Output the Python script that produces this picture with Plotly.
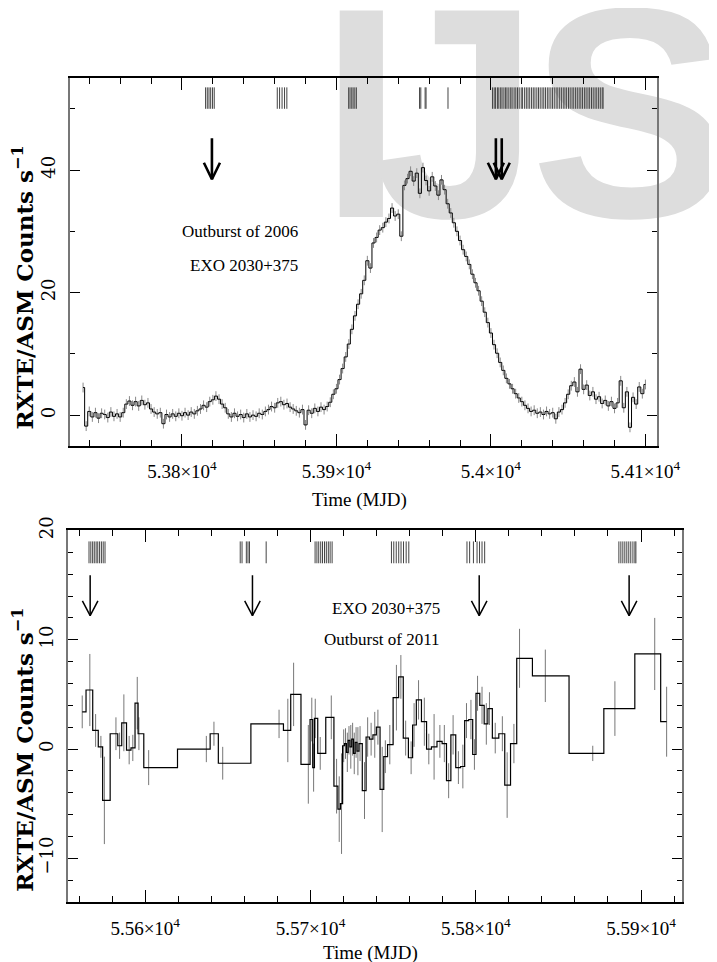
import plotly.graph_objects as go

# ---------------- DATA ----------------
# 2006 outburst, RXTE/ASM light curve (2-day sampling)
T06_START = 53736
T06_STEP = 2
rate06 = [
    4.5, -1.8, 0.6, -0.3, 0.4, -0.5, 0.3, 0.1, -0.4, 0.5,
    -0.2, 0.2, -0.3, 0.4, 1.8, 2.3, 1.6, 2.2, 1.5, 2.4,
    1.7, 2.0, 1.0, 0.5, 0.2, 0.4, -1.4, 0.1, -0.3, 0.2,
    -0.2, 0.3, -0.1, 0.4, 0.0, 0.5, 0.2, 0.7, 1.0, 1.6,
    1.3, 2.2, 2.5, 3.1, 2.6, 1.8, 1.2, 0.2, -0.3, 0.3,
    -0.2, 0.1, -0.4, 0.2, -0.3, 0.0, -0.2, 0.3, 0.1, 0.6,
    0.9, 1.4, 1.2, 2.0, 2.2, 1.7, 1.9, 1.3, 1.0, 0.7,
    0.4, 0.9, -1.6, 0.8, 0.3, 1.1, 0.6, 1.3, 0.9, 1.4,
    2.1, 3.4, 4.3, 5.8, 7.6, 9.5, 11.6, 14.0, 16.2, 18.1,
    19.8, 22.0, 25.2, 24.0, 28.1, 29.0, 30.2, 30.6, 31.5, 32.1,
    33.8, 32.5, 32.8, 29.2, 37.5, 38.6, 39.8, 38.2, 39.5, 36.2,
    40.4, 38.3, 36.6, 38.9, 37.4, 35.9, 38.4, 36.8, 34.5, 33.0,
    31.4, 30.0, 28.5, 27.0, 25.9, 24.6, 23.0, 21.6, 20.3, 18.6,
    16.8, 15.1, 13.4, 11.5, 10.1, 8.6, 7.3, 6.0, 5.1, 4.3,
    3.5, 2.8, 2.2, 1.6, 1.1, 0.6, 0.8, 0.3, 0.5, 0.1,
    0.6, 0.2, 0.4, -0.6, 0.5, 0.9, 2.0, 3.4, 4.8, 5.4,
    3.8, 7.5, 4.2, 4.9, 3.2, 3.8, 2.6, 3.0, 1.9, 2.4,
    1.5, 2.2, 1.1, 2.0, 5.6, 1.2, 3.8, -2.0, 2.9, 1.8,
    4.6, 3.5, 5.0,
]
t06 = [T06_START + T06_STEP * i for i in range(len(rate06))]
ERR06 = 0.8  # typical ASM uncertainty (constant error bar)

# observation epochs (2006)
obs06 = [53815.3, 53816.4, 53817.5, 53818.6, 53819.8, 53820.9,
         53861.7, 53863.2, 53864.8, 53866.4, 53867.9,
         53907.9, 53908.8, 53909.9, 53910.8, 53911.9, 53912.9,
         53953.8, 53954.6, 53957.4, 53958.0,
         53972.2,
         54001.0, 54002.1, 54003.0, 54004.2, 54005.1, 54006.3, 54007.2, 54008.4,
         54009.5, 54010.4, 54011.6, 54012.8, 54013.7, 54015.0, 54016.1, 54017.2,
         54018.3, 54019.6, 54020.5, 54021.8, 54022.9, 54024.0, 54025.1, 54026.3,
         54027.4, 54028.5, 54029.7, 54030.8, 54031.9, 54033.1, 54034.2, 54035.3,
         54036.5, 54037.6, 54038.8, 54039.9, 54041.0, 54042.2, 54043.3, 54044.5,
         54045.6, 54046.8, 54047.9, 54049.0, 54050.2, 54051.3, 54052.5, 54053.6,
         54054.8, 54055.9, 54057.1, 54058.2, 54059.3, 54060.5, 54061.6, 54062.8,
         54063.9, 54065.1, 54066.2, 54067.4, 54068.5, 54069.7, 54070.8, 54072.0,
         54072.6]
obs06_extra = [53970.6, 53972.5]
arrows06 = [53819.4, 54003.2, 54007.0]

# 2011 outburst light curve
t11 = [55561.9, 55566.5, 55570.0, 55573.2, 55575.3, 55582.3, 55584.5, 55587.1, 55590.3, 55592.5,
       55595.2, 55596.2, 55602.1, 55637.0, 55641.6, 55646.9, 55681.0, 55686.3, 55689.8, 55698.7,
       55700.8, 55701.9, 55702.9, 55705.9, 55712.6, 55715.8, 55717.4, 55718.8, 55720.1, 55721.2,
       55722.3, 55723.3, 55724.4, 55725.5, 55726.5, 55727.6, 55728.7, 55730.0, 55732.7, 55734.6,
       55736.7, 55738.9, 55740.8, 55743.4, 55745.3, 55748.0, 55752.0, 55754.7, 55757.6, 55760.9,
       55762.7, 55765.4, 55768.9, 55771.6, 55774.8, 55778.3, 55781.0, 55783.6, 55786.3, 55789.5,
       55792.2, 55794.4, 55797.1, 55799.2, 55801.1, 55803.8, 55806.4, 55808.3, 55811.8, 55816.1,
       55819.0, 55823.1, 55826.5, 55842.1, 55870.8, 55884.2, 55908.3, 55915.5]
rate11 = [3.4, 5.4, 1.7, 0.2, -4.7, 1.4, 0.3, 2.4, -0.1, 0.1,
          4.2, 1.4, -1.7, 0.0, 1.4, -1.3, 2.3, 1.7, 5.0, -1.4,
          2.7, -1.7, 2.8, -0.4, 2.9, -3.4, -5.5, -5.0, 0.3, 0.5,
          -0.3, 0.8, 0.2, 0.9, -0.4, 0.6, -0.2, 0.5, -3.8, 1.1,
          0.9, 1.3, 2.0, -3.7, -0.7, 0.4, 4.7, 6.6, 1.0, -0.8,
          2.2, 4.5, 2.5, 0.0, 0.2, 0.7, 0.5, -2.9, 1.3, -1.7,
          -1.6, 2.6, 2.7, -0.5, 5.1, 4.0, 2.3, 3.7, 1.0, 1.4,
          -3.3, 0.5, 8.3, 6.7, -0.4, 3.7, 8.7, 2.5]
err11 = [1.5, 3.3, 1.5, 1.0, 4.0, 1.5, 1.2, 2.6, 1.3, 1.2,
         2.4, 1.5, 1.6, 1.2, 1.1, 1.5, 1.3, 2.9, 2.9, 3.6,
         2.0, 2.2, 1.8, 1.5, 2.0, 2.5, 3.0, 4.6, 1.5, 1.4,
         1.8, 1.3, 2.0, 1.5, 1.9, 1.4, 2.2, 1.6, 2.6, 1.8,
         1.5, 2.1, 1.6, 3.9, 1.5, 1.8, 3.0, 2.0, 1.6, 1.5,
         2.0, 1.8, 2.2, 1.4, 3.0, 1.5, 1.7, 1.6, 1.8, 1.5,
         2.0, 1.6, 1.8, 1.4, 1.6, 1.7, 1.9, 1.5, 1.4, 1.6,
         3.0, 1.8, 2.7, 2.4, 0.7, 2.5, 3.3, 3.2]

obs11 = [55566.0, 55567.1, 55568.2, 55569.2, 55570.3, 55571.3, 55572.4, 55573.5, 55574.6, 55575.7,
         55657.5, 55658.6, 55661.2, 55662.2, 55663.1, 55673.2,
         55702.8, 55703.9, 55705.0, 55706.2, 55707.3, 55708.5, 55709.6, 55710.8, 55711.9, 55713.1,
         55749.0, 55750.4, 55751.9, 55753.4, 55754.8, 55756.3, 55757.9, 55759.5,
         55794.7, 55796.3, 55798.6, 55800.8, 55802.3, 55803.8, 55805.4,
         55886.6, 55887.8, 55889.0, 55890.2, 55891.4, 55892.6, 55893.8, 55895.1, 55896.3, 55896.9]
arrows11 = [55566.7, 55664.9, 55802.1, 55892.8]

xticks06 = [53800, 53900, 54000, 54100]
xticks06_text = ["5.38×10<sup>4</sup>", "5.39×10<sup>4</sup>", "5.4×10<sup>4</sup>", "5.41×10<sup>4</sup>"]
xticks11 = [55600, 55700, 55800, 55900]
xticks11_text = ["5.56×10<sup>4</sup>", "5.57×10<sup>4</sup>", "5.58×10<sup>4</sup>", "5.59×10<sup>4</sup>"]
yticks06 = [0, 20, 40]
yticks11 = [-10, 0, 10, 20]

# ---------------- STYLE ----------------
SERIF = "Liberation Serif"
STRIP06 = (50.0, 53.5)
STRIP11 = (17.0, 19.0)
ARROW06 = dict(top=45.2, tip=38.5, dx=5.2, dy=2.7, width=2.6)
ARROW11 = dict(top=15.9, tip=12.2, dx=4.7, dy=1.36, width=1.5)
# watermark letters: (letter, x position in the top panel's MJD units)
WATERMARK_LETTERS = ["I", "J", "S"]
WATERMARK_X = [53916.1, 53977.5, 54090.3]
WATERMARK_Y = 44.6
WATERMARK_SIZE = 300


def strip_xy(times, lo, hi):
    xs, ys = [], []
    for t in times:
        xs += [t, t, None]
        ys += [lo, hi, None]
    return xs, ys


def arrow_xy(xs_, a):
    xs, ys = [], []
    for x in xs_:
        xs += [x, x, None, x - a["dx"], x, x + a["dx"], None]
        ys += [a["top"], a["tip"], None, a["tip"] + a["dy"], a["tip"], a["tip"] + a["dy"], None]
    return xs, ys


fig = go.Figure()

# watermark (behind everything in the top panel)
fig.add_trace(go.Scatter(x=WATERMARK_X, y=[WATERMARK_Y] * len(WATERMARK_X), mode="text",
                         text=WATERMARK_LETTERS,
                         textfont=dict(family="Liberation Sans", size=WATERMARK_SIZE, color="#dddddd",
                                       weight="bold"),
                         textposition="middle center", cliponaxis=False,
                         hoverinfo="skip", showlegend=False, xaxis="x", yaxis="y"))

# top panel
sx, sy = strip_xy(obs06, *STRIP06)
fig.add_trace(go.Scatter(x=sx, y=sy, mode="lines", line=dict(color="#444", width=1),
                         hoverinfo="skip", showlegend=False, xaxis="x", yaxis="y"))
fig.add_trace(go.Scatter(x=obs06_extra, y=[56.6] * len(obs06_extra), mode="markers",
                         marker=dict(symbol="line-ns", size=5, line=dict(color="#555", width=1)),
                         cliponaxis=False, hoverinfo="skip", showlegend=False, xaxis="x", yaxis="y"))
ax, ay = arrow_xy(arrows06, ARROW06)
fig.add_trace(go.Scatter(x=ax, y=ay, mode="lines", line=dict(color="black", width=ARROW06["width"]),
                         hoverinfo="skip", showlegend=False, xaxis="x", yaxis="y"))
fig.add_trace(go.Scatter(x=t06, y=rate06, mode="lines", line=dict(color="black", width=1, shape="hvh"),
                         error_y=dict(type="constant", value=ERR06, color="#888", thickness=1, width=0),
                         showlegend=False, xaxis="x", yaxis="y"))

# bottom panel
sx, sy = strip_xy(obs11, *STRIP11)
fig.add_trace(go.Scatter(x=sx, y=sy, mode="lines", line=dict(color="#444", width=1),
                         hoverinfo="skip", showlegend=False, xaxis="x2", yaxis="y2"))
ax, ay = arrow_xy(arrows11, ARROW11)
fig.add_trace(go.Scatter(x=ax, y=ay, mode="lines", line=dict(color="black", width=ARROW11["width"]),
                         hoverinfo="skip", showlegend=False, xaxis="x2", yaxis="y2"))
fig.add_trace(go.Scatter(x=t11, y=rate11, mode="lines",
                         line=dict(color="black", width=1.2, shape="hvh"),
                         error_y=dict(type="data", array=err11, color="#777", thickness=1, width=0),
                         showlegend=False, xaxis="x2", yaxis="y2"))


def xaxis(domain, anchor, rng, tv, tt, tick0):
    return dict(domain=domain, anchor=anchor, range=rng, tickmode="array", tickvals=tv, ticktext=tt,
                ticks="inside", ticklen=12, tickwidth=1, tickcolor="black",
                minor=dict(tickmode="linear", tick0=tick0, dtick=20, ticks="inside", ticklen=6,
                           tickwidth=1, tickcolor="black", showgrid=False),
                showline=True, linecolor="black", linewidth=1.5, mirror="allticks",
                showgrid=False, zeroline=False, ticklabelstandoff=8,
                tickfont=dict(family=SERIF, size=19, color="black"))


def yaxis(domain, anchor, rng, tv, mdt):
    return dict(domain=domain, anchor=anchor, range=rng, tickmode="array", tickvals=tv,
                ticks="inside", ticklen=10, tickwidth=1, tickcolor="black", tickangle=-90,
                minor=dict(tickmode="linear", tick0=0, dtick=mdt, ticks="inside", ticklen=5,
                           tickwidth=1, tickcolor="black", showgrid=False),
                showline=True, linecolor="#777", linewidth=2, mirror="allticks",
                showgrid=False, zeroline=False, ticklabelstandoff=6,
                tickfont=dict(family="DejaVu Serif", size=18, color="black"))


W, H = 717, 962
fig.update_layout(
    width=W, height=H, margin=dict(l=0, r=0, t=0, b=0),
    paper_bgcolor="white", plot_bgcolor="white", showlegend=False,
    xaxis=xaxis([64 / W, 671 / W], "y", [53727.5, 54107.8], xticks06, xticks06_text, 53800),
    yaxis=yaxis([1 - 430 / H, 1 - 57 / H], "x", [-5, 55], yticks06, 10),
    xaxis2=xaxis([62 / W, 696 / W], "y2", [55553.3, 55924.6], xticks11, xticks11_text, 55600),
    yaxis2=yaxis([1 - 893 / H, 1 - 516 / H], "x2", [-14, 20], yticks11, 2),
)

ylab = "RXTE/ASM Counts s<sup>−1</sup>"
ann_font = dict(family=SERIF, size=17, color="black")
title_font = dict(family=SERIF, size=19, color="black")
ylab_font = dict(family="DejaVu Serif", size=23, color="black", weight="bold")
annots = [
    dict(text="Outburst of 2006", x=302 / W, y=1 - 213 / H, xanchor="right", font=ann_font),
    dict(text="EXO 2030+375", x=302 / W, y=1 - 247 / H, xanchor="right", font=ann_font),
    dict(text="EXO 2030+375", x=391 / W, y=1 - 595 / H, xanchor="center", font=ann_font),
    dict(text="Outburst of 2011", x=386 / W, y=1 - 627 / H, xanchor="center", font=ann_font),
    dict(text="Time (MJD)", x=363 / W, y=1 - 485 / H, xanchor="center", font=title_font),
    dict(text="Time (MJD)", x=374 / W, y=1 - 945 / H, xanchor="center", font=title_font),
    dict(text=ylab, x=16 / W, y=1 - 269 / H, xanchor="center", textangle=-90, font=ylab_font),
    dict(text=ylab, x=16 / W, y=1 - 738 / H, xanchor="center", textangle=-90, font=ylab_font),
]
for a in annots:
    a.update(xref="paper", yref="paper", yanchor="middle", showarrow=False)
fig.update_layout(annotations=annots)

fig.write_html("out.html")
